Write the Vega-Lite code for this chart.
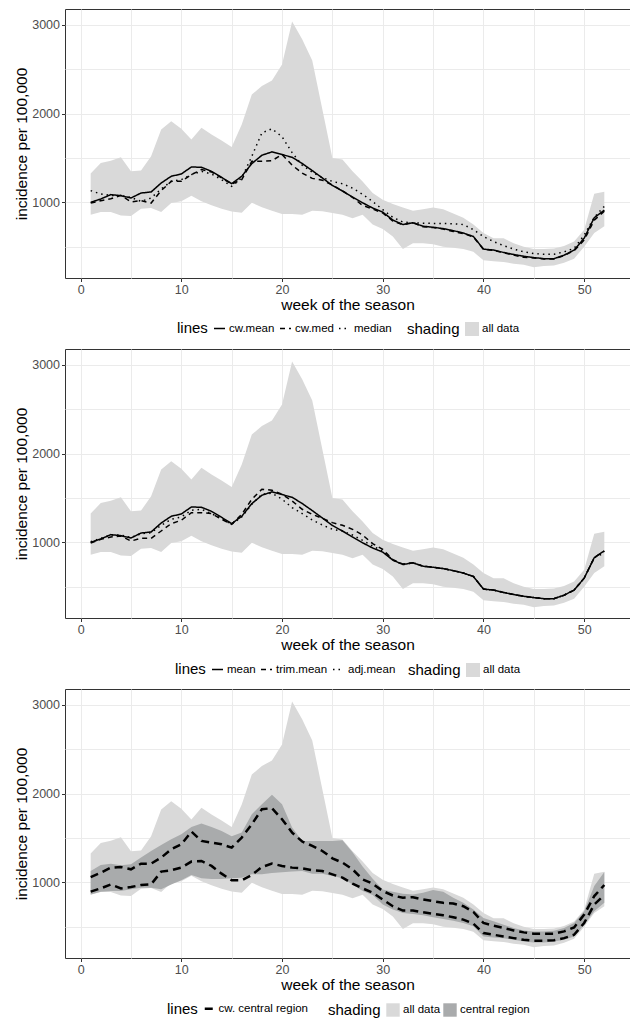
{
  "$schema": "https://vega.github.io/schema/vega-lite/v6.json",
  "padding": {"left": 14, "top": 8, "right": 0, "bottom": 0},
  "background": "white",
  "config": {
    "font": "Liberation Sans",
    "view": {"stroke": "#333333", "strokeWidth": 1},
    "axis": {"domain": false, "grid": true, "gridColor": "#EBEBEB", "gridWidth": 1, "tickColor": "#333333", "tickSize": 3.5, "tickWidth": 1, "labelColor": "#4D4D4D", "labelFontSize": 12.5, "labelPadding": 2, "titleColor": "#000000", "titleFontSize": 15.5, "titleFontWeight": "normal", "labelFlush": false, "labelOverlap": false},
    "axisX": {"titlePadding": 1},
    "axisY": {"titlePadding": 2},
    "legend": {"orient": "none", "direction": "horizontal", "titleOrient": "left", "titleFontSize": 15, "titleFontWeight": "normal", "titleColor": "#000000", "labelFontSize": 11.5, "labelColor": "#000000", "titlePadding": 5, "columnPadding": 1, "labelOffset": 3, "symbolOpacity": 1, "gridAlign": "none"}
  },
  "data": {"values": [
    {"w":1,"lo":861,"hi":1324,"cw_mean":1000,"cw_med":992,"median":1132,"mean":1000,"trim_mean":992,"adj_mean":1008,"clo":864,"chi":1128,"ulo":895,"uhi":1060},
    {"w":2,"lo":890,"hi":1444,"cw_mean":1038,"cw_med":1019,"median":1094,"mean":1038,"trim_mean":1034,"adj_mean":1045,"clo":895,"chi":1196,"ulo":932,"uhi":1109},
    {"w":3,"lo":890,"hi":1470,"cw_mean":1087,"cw_med":1041,"median":1079,"mean":1087,"trim_mean":1060,"adj_mean":1083,"clo":902,"chi":1211,"ulo":977,"uhi":1166},
    {"w":4,"lo":853,"hi":1508,"cw_mean":1075,"cw_med":1079,"median":1075,"mean":1075,"trim_mean":1072,"adj_mean":1083,"clo":902,"chi":1192,"ulo":932,"uhi":1173},
    {"w":5,"lo":846,"hi":1350,"cw_mean":1049,"cw_med":1004,"median":1056,"mean":1049,"trim_mean":1015,"adj_mean":1053,"clo":921,"chi":1203,"ulo":947,"uhi":1147},
    {"w":6,"lo":928,"hi":1358,"cw_mean":1105,"cw_med":1019,"median":1011,"mean":1105,"trim_mean":1045,"adj_mean":1098,"clo":940,"chi":1279,"ulo":970,"uhi":1211},
    {"w":7,"lo":936,"hi":1520,"cw_mean":1117,"cw_med":992,"median":1049,"mean":1117,"trim_mean":1045,"adj_mean":1109,"clo":940,"chi":1354,"ulo":977,"uhi":1211},
    {"w":8,"lo":890,"hi":1821,"cw_mean":1218,"cw_med":1132,"median":1151,"mean":1218,"trim_mean":1128,"adj_mean":1192,"clo":921,"chi":1422,"ulo":1121,"uhi":1279},
    {"w":9,"lo":992,"hi":1915,"cw_mean":1294,"cw_med":1237,"median":1237,"mean":1294,"trim_mean":1211,"adj_mean":1260,"clo":977,"chi":1486,"ulo":1136,"uhi":1373},
    {"w":10,"lo":1011,"hi":1829,"cw_mean":1320,"cw_med":1237,"median":1256,"mean":1320,"trim_mean":1249,"adj_mean":1286,"clo":1023,"chi":1542,"ulo":1166,"uhi":1429},
    {"w":11,"lo":1075,"hi":1708,"cw_mean":1399,"cw_med":1313,"median":1313,"mean":1399,"trim_mean":1335,"adj_mean":1362,"clo":1083,"chi":1625,"ulo":1234,"uhi":1572},
    {"w":12,"lo":1011,"hi":1840,"cw_mean":1395,"cw_med":1369,"median":1350,"mean":1395,"trim_mean":1335,"adj_mean":1373,"clo":1045,"chi":1663,"ulo":1241,"uhi":1467},
    {"w":13,"lo":966,"hi":1765,"cw_mean":1350,"cw_med":1343,"median":1320,"mean":1350,"trim_mean":1324,"adj_mean":1324,"clo":1038,"chi":1625,"ulo":1185,"uhi":1448},
    {"w":14,"lo":928,"hi":1697,"cw_mean":1282,"cw_med":1275,"median":1256,"mean":1282,"trim_mean":1260,"adj_mean":1267,"clo":1038,"chi":1580,"ulo":1098,"uhi":1429},
    {"w":15,"lo":898,"hi":1625,"cw_mean":1211,"cw_med":1207,"median":1181,"mean":1211,"trim_mean":1203,"adj_mean":1203,"clo":1045,"chi":1520,"ulo":1023,"uhi":1392},
    {"w":16,"lo":883,"hi":1878,"cw_mean":1294,"cw_med":1256,"median":1275,"mean":1294,"trim_mean":1316,"adj_mean":1286,"clo":1053,"chi":1561,"ulo":1023,"uhi":1505},
    {"w":17,"lo":996,"hi":2216,"cw_mean":1437,"cw_med":1463,"median":1520,"mean":1437,"trim_mean":1486,"adj_mean":1429,"clo":1090,"chi":1768,"ulo":1083,"uhi":1655},
    {"w":18,"lo":944,"hi":2311,"cw_mean":1531,"cw_med":1463,"median":1783,"mean":1531,"trim_mean":1599,"adj_mean":1542,"clo":1090,"chi":1881,"ulo":1173,"uhi":1825},
    {"w":19,"lo":906,"hi":2375,"cw_mean":1569,"cw_med":1470,"median":1829,"mean":1569,"trim_mean":1588,"adj_mean":1554,"clo":1105,"chi":1987,"ulo":1211,"uhi":1836},
    {"w":20,"lo":868,"hi":2555,"cw_mean":1539,"cw_med":1539,"median":1740,"mean":1539,"trim_mean":1542,"adj_mean":1486,"clo":1113,"chi":1881,"ulo":1185,"uhi":1712},
    {"w":21,"lo":868,"hi":3038,"cw_mean":1508,"cw_med":1420,"median":1560,"mean":1508,"trim_mean":1467,"adj_mean":1392,"clo":1121,"chi":1618,"ulo":1166,"uhi":1561},
    {"w":22,"lo":861,"hi":2838,"cw_mean":1438,"cw_med":1330,"median":1420,"mean":1438,"trim_mean":1373,"adj_mean":1324,"clo":1128,"chi":1467,"ulo":1158,"uhi":1460},
    {"w":23,"lo":906,"hi":2600,"cw_mean":1358,"cw_med":1270,"median":1340,"mean":1358,"trim_mean":1316,"adj_mean":1252,"clo":1098,"chi":1467,"ulo":1136,"uhi":1411},
    {"w":24,"lo":900,"hi":2050,"cw_mean":1275,"cw_med":1250,"median":1280,"mean":1275,"trim_mean":1271,"adj_mean":1196,"clo":1098,"chi":1467,"ulo":1128,"uhi":1354},
    {"w":25,"lo":880,"hi":1500,"cw_mean":1190,"cw_med":1195,"median":1236,"mean":1190,"trim_mean":1222,"adj_mean":1147,"clo":1072,"chi":1467,"ulo":1090,"uhi":1271},
    {"w":26,"lo":861,"hi":1482,"cw_mean":1128,"cw_med":1130,"median":1210,"mean":1128,"trim_mean":1192,"adj_mean":1128,"clo":1045,"chi":1475,"ulo":1053,"uhi":1222},
    {"w":27,"lo":820,"hi":1350,"cw_mean":1060,"cw_med":1055,"median":1160,"mean":1060,"trim_mean":1147,"adj_mean":1083,"clo":977,"chi":1340,"ulo":985,"uhi":1147},
    {"w":28,"lo":861,"hi":1236,"cw_mean":995,"cw_med":965,"median":1090,"mean":995,"trim_mean":1083,"adj_mean":1023,"clo":902,"chi":1180,"ulo":932,"uhi":1034},
    {"w":29,"lo":750,"hi":1104,"cw_mean":936,"cw_med":925,"median":1010,"mean":936,"trim_mean":985,"adj_mean":959,"clo":857,"chi":1040,"ulo":883,"uhi":985},
    {"w":30,"lo":700,"hi":1030,"cw_mean":890,"cw_med":880,"median":917,"mean":890,"trim_mean":921,"adj_mean":902,"clo":750,"chi":920,"ulo":807,"uhi":902},
    {"w":31,"lo":615,"hi":980,"cw_mean":800,"cw_med":790,"median":831,"mean":800,"trim_mean":805,"adj_mean":800,"clo":693,"chi":894,"ulo":731,"uhi":852},
    {"w":32,"lo":473,"hi":942,"cw_mean":750,"cw_med":748,"median":778,"mean":750,"trim_mean":755,"adj_mean":750,"clo":655,"chi":871,"ulo":682,"uhi":826},
    {"w":33,"lo":538,"hi":904,"cw_mean":769,"cw_med":772,"median":770,"mean":769,"trim_mean":769,"adj_mean":769,"clo":644,"chi":864,"ulo":682,"uhi":833},
    {"w":34,"lo":538,"hi":923,"cw_mean":731,"cw_med":725,"median":765,"mean":731,"trim_mean":731,"adj_mean":731,"clo":629,"chi":883,"ulo":663,"uhi":807},
    {"w":35,"lo":527,"hi":942,"cw_mean":719,"cw_med":715,"median":762,"mean":719,"trim_mean":719,"adj_mean":719,"clo":606,"chi":913,"ulo":644,"uhi":788},
    {"w":36,"lo":500,"hi":923,"cw_mean":704,"cw_med":700,"median":762,"mean":704,"trim_mean":704,"adj_mean":704,"clo":587,"chi":894,"ulo":629,"uhi":769},
    {"w":37,"lo":488,"hi":873,"cw_mean":681,"cw_med":672,"median":758,"mean":681,"trim_mean":681,"adj_mean":681,"clo":568,"chi":826,"ulo":606,"uhi":761},
    {"w":38,"lo":473,"hi":827,"cw_mean":654,"cw_med":648,"median":750,"mean":654,"trim_mean":654,"adj_mean":654,"clo":542,"chi":769,"ulo":580,"uhi":731},
    {"w":39,"lo":442,"hi":750,"cw_mean":615,"cw_med":610,"median":692,"mean":615,"trim_mean":615,"adj_mean":615,"clo":504,"chi":693,"ulo":534,"uhi":667},
    {"w":40,"lo":346,"hi":654,"cw_mean":473,"cw_med":470,"median":615,"mean":473,"trim_mean":473,"adj_mean":473,"clo":390,"chi":598,"ulo":428,"uhi":542},
    {"w":41,"lo":335,"hi":596,"cw_mean":462,"cw_med":458,"median":558,"mean":462,"trim_mean":462,"adj_mean":462,"clo":379,"chi":561,"ulo":409,"uhi":511},
    {"w":42,"lo":327,"hi":596,"cw_mean":435,"cw_med":432,"median":512,"mean":435,"trim_mean":435,"adj_mean":435,"clo":371,"chi":523,"ulo":390,"uhi":485},
    {"w":43,"lo":308,"hi":538,"cw_mean":412,"cw_med":405,"median":473,"mean":412,"trim_mean":412,"adj_mean":412,"clo":352,"chi":485,"ulo":371,"uhi":458},
    {"w":44,"lo":296,"hi":500,"cw_mean":392,"cw_med":380,"median":442,"mean":392,"trim_mean":392,"adj_mean":392,"clo":333,"chi":458,"ulo":352,"uhi":436},
    {"w":45,"lo":269,"hi":473,"cw_mean":377,"cw_med":372,"median":423,"mean":377,"trim_mean":377,"adj_mean":377,"clo":322,"chi":447,"ulo":341,"uhi":420},
    {"w":46,"lo":281,"hi":473,"cw_mean":365,"cw_med":362,"median":415,"mean":365,"trim_mean":365,"adj_mean":365,"clo":322,"chi":447,"ulo":341,"uhi":420},
    {"w":47,"lo":288,"hi":481,"cw_mean":365,"cw_med":362,"median":415,"mean":365,"trim_mean":365,"adj_mean":365,"clo":333,"chi":455,"ulo":348,"uhi":420},
    {"w":48,"lo":319,"hi":508,"cw_mean":404,"cw_med":400,"median":442,"mean":404,"trim_mean":404,"adj_mean":404,"clo":352,"chi":485,"ulo":371,"uhi":447},
    {"w":49,"lo":365,"hi":558,"cw_mean":462,"cw_med":455,"median":481,"mean":462,"trim_mean":462,"adj_mean":462,"clo":390,"chi":542,"ulo":409,"uhi":492},
    {"w":50,"lo":500,"hi":692,"cw_mean":596,"cw_med":575,"median":630,"mean":596,"trim_mean":596,"adj_mean":596,"clo":523,"chi":674,"ulo":542,"uhi":636},
    {"w":51,"lo":654,"hi":1096,"cw_mean":827,"cw_med":800,"median":830,"mean":827,"trim_mean":827,"adj_mean":827,"clo":674,"chi":958,"ulo":750,"uhi":845},
    {"w":52,"lo":731,"hi":1120,"cw_mean":912,"cw_med":900,"median":955,"mean":905,"trim_mean":900,"adj_mean":880,"clo":769,"chi":1117,"ulo":856,"uhi":970}
  ]},
  "spacing": 71,
  "bounds": "flush",
  "resolve": {"scale": {"fill": "independent", "strokeDash": "independent"}},
  "vconcat": [
    {
      "width": 565, "height": 269,
      "encoding": {"x": {"field": "w", "type": "quantitative", "title": "week of the season", "scale": {"domain": [-1.55, 54.55], "nice": false, "zero": false}, "axis": {"values": [0,5,10,15,20,25,30,35,40,45,50], "labelExpr": "datum.value % 10 === 0 ? datum.label : ''", "tickOpacity": {"condition": {"test": "datum.value % 10 === 0", "value": 1}, "value": 0}}}},
      "layer": [
        {"mark": {"type": "area", "opacity": 1},
         "encoding": {
           "y": {"field": "lo", "type": "quantitative", "title": "incidence per 100,000", "scale": {"domain": [147, 3180], "nice": false, "zero": false}, "axis": {"values": [500,1000,1500,2000,2500,3000], "format": "d", "labelExpr": "datum.value % 1000 === 0 ? datum.label : ''", "tickOpacity": {"condition": {"test": "datum.value % 1000 === 0", "value": 1}, "value": 0}}},
           "y2": {"field": "hi"},
           "fill": {"datum": "all data", "type": "nominal", "scale": {"domain": ["all data"], "range": ["#D9D9D9"]}, "legend": {"title": "shading", "legendX": 342, "legendY": 313, "symbolType": "square", "symbolSize": 196, "symbolStrokeWidth": 0, "labelOffset": 3}}
         }},
        {"transform": [{"fold": ["cw_mean", "cw_med", "median"], "as": ["s", "v"]}],
         "mark": {"type": "line", "color": "#000000", "strokeWidth": 1.5},
         "encoding": {
           "y": {"field": "v", "type": "quantitative", "title": "incidence per 100,000", "scale": {"domain": [147, 3180], "nice": false, "zero": false}, "axis": {"values": [500,1000,1500,2000,2500,3000], "format": "d", "labelExpr": "datum.value % 1000 === 0 ? datum.label : ''", "tickOpacity": {"condition": {"test": "datum.value % 1000 === 0", "value": 1}, "value": 0}}},
           "strokeDash": {"field": "s", "type": "nominal", "scale": {"domain": ["cw_mean", "cw_med", "median"], "range": [[1, 0], [5, 4], [1.5, 4]]}, "legend": {"title": "lines", "legendX": 112, "legendY": 313, "symbolType": "stroke", "symbolSize": 121, "symbolStrokeWidth": 1.6, "symbolStrokeColor": "#000000", "labelExpr": "replace(datum.label, '_', '.')"}}
         }}
      ]
    },
    {
      "width": 565, "height": 269,
      "encoding": {"x": {"field": "w", "type": "quantitative", "title": "week of the season", "scale": {"domain": [-1.55, 54.55], "nice": false, "zero": false}, "axis": {"values": [0,5,10,15,20,25,30,35,40,45,50], "labelExpr": "datum.value % 10 === 0 ? datum.label : ''", "tickOpacity": {"condition": {"test": "datum.value % 10 === 0", "value": 1}, "value": 0}}}},
      "layer": [
        {"mark": {"type": "area", "opacity": 1},
         "encoding": {
           "y": {"field": "lo", "type": "quantitative", "title": "incidence per 100,000", "scale": {"domain": [147, 3180], "nice": false, "zero": false}, "axis": {"values": [500,1000,1500,2000,2500,3000], "format": "d", "labelExpr": "datum.value % 1000 === 0 ? datum.label : ''", "tickOpacity": {"condition": {"test": "datum.value % 1000 === 0", "value": 1}, "value": 0}}},
           "y2": {"field": "hi"},
           "fill": {"datum": "all data", "type": "nominal", "scale": {"domain": ["all data"], "range": ["#D9D9D9"]}, "legend": {"title": "shading", "legendX": 343, "legendY": 314, "symbolType": "square", "symbolSize": 196, "symbolStrokeWidth": 0, "labelOffset": 3}}
         }},
        {"transform": [{"fold": ["mean", "trim_mean", "adj_mean"], "as": ["s", "v"]}],
         "mark": {"type": "line", "color": "#000000", "strokeWidth": 1.5},
         "encoding": {
           "y": {"field": "v", "type": "quantitative", "title": "incidence per 100,000", "scale": {"domain": [147, 3180], "nice": false, "zero": false}, "axis": {"values": [500,1000,1500,2000,2500,3000], "format": "d", "labelExpr": "datum.value % 1000 === 0 ? datum.label : ''", "tickOpacity": {"condition": {"test": "datum.value % 1000 === 0", "value": 1}, "value": 0}}},
           "strokeDash": {"field": "s", "type": "nominal", "scale": {"domain": ["mean", "trim_mean", "adj_mean"], "range": [[1, 0], [5, 4], [1.5, 4]]}, "legend": {"title": "lines", "legendX": 110, "legendY": 314, "symbolType": "stroke", "symbolSize": 121, "symbolStrokeWidth": 1.6, "symbolStrokeColor": "#000000", "labelExpr": "replace(datum.label, '_', '.')"}}
         }}
      ]
    },
    {
      "width": 565, "height": 269,
      "encoding": {"x": {"field": "w", "type": "quantitative", "title": "week of the season", "scale": {"domain": [-1.55, 54.55], "nice": false, "zero": false}, "axis": {"values": [0,5,10,15,20,25,30,35,40,45,50], "labelExpr": "datum.value % 10 === 0 ? datum.label : ''", "tickOpacity": {"condition": {"test": "datum.value % 10 === 0", "value": 1}, "value": 0}}}},
      "layer": [
        {"mark": {"type": "area", "opacity": 1},
         "encoding": {
           "y": {"field": "lo", "type": "quantitative", "title": "incidence per 100,000", "scale": {"domain": [147, 3180], "nice": false, "zero": false}, "axis": {"values": [500,1000,1500,2000,2500,3000], "format": "d", "labelExpr": "datum.value % 1000 === 0 ? datum.label : ''", "tickOpacity": {"condition": {"test": "datum.value % 1000 === 0", "value": 1}, "value": 0}}},
           "y2": {"field": "hi"},
           "fill": {"datum": "all data", "type": "nominal", "scale": {"domain": ["all data", "central region"], "range": ["#D9D9D9", "#A9ABAC"]}, "legend": {"title": "shading", "legendX": 263, "legendY": 314, "symbolType": "square", "symbolSize": 180, "symbolStrokeWidth": 0, "labelOffset": 3, "columnPadding": 2}}
         }},
        {"mark": {"type": "area", "opacity": 1},
         "encoding": {
           "y": {"field": "clo", "type": "quantitative", "title": "incidence per 100,000", "scale": {"domain": [147, 3180], "nice": false, "zero": false}, "axis": {"values": [500,1000,1500,2000,2500,3000], "format": "d", "labelExpr": "datum.value % 1000 === 0 ? datum.label : ''", "tickOpacity": {"condition": {"test": "datum.value % 1000 === 0", "value": 1}, "value": 0}}},
           "y2": {"field": "chi"},
           "fill": {"datum": "central region", "type": "nominal", "scale": {"domain": ["all data", "central region"], "range": ["#D9D9D9", "#A9ABAC"]}}
         }},
        {"transform": [{"fold": ["ulo", "uhi"], "as": ["k", "v"]}],
         "mark": {"type": "line", "color": "#000000", "strokeWidth": 2.5},
         "encoding": {
           "y": {"field": "v", "type": "quantitative", "title": "incidence per 100,000", "scale": {"domain": [147, 3180], "nice": false, "zero": false}, "axis": {"values": [500,1000,1500,2000,2500,3000], "format": "d", "labelExpr": "datum.value % 1000 === 0 ? datum.label : ''", "tickOpacity": {"condition": {"test": "datum.value % 1000 === 0", "value": 1}, "value": 0}}},
           "detail": {"field": "k", "type": "nominal"},
           "strokeDash": {"datum": "cw. central region", "type": "nominal", "scale": {"domain": ["cw. central region"], "range": [[8, 5]]}, "legend": {"title": "lines", "legendX": 102, "legendY": 314, "symbolType": "stroke", "symbolSize": 64, "symbolStrokeWidth": 2.5, "symbolStrokeColor": "#000000", "labelOffset": 4}}
         }}
      ]
    }
  ]
}
